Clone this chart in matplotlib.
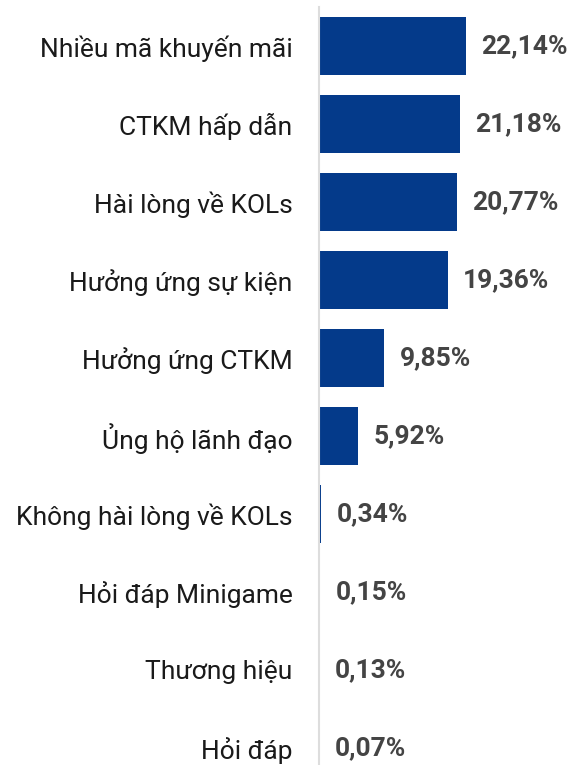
import matplotlib
matplotlib.use('Agg')
import matplotlib.pyplot as plt

plt.rcParams['font.family'] = ['Roboto', 'DejaVu Sans']

# Data
labels = [
    'Nhiều mã khuyến mãi', 'CTKM hấp dẫn', 'Hài lòng về KOLs',
    'Hưởng ứng sự kiện', 'Hưởng ứng CTKM', 'Ủng hộ lãnh đạo',
    'Không hài lòng về KOLs', 'Hỏi đáp Minigame', 'Thương hiệu', 'Hỏi đáp'
]
values = [22.14, 21.18, 20.77, 19.36, 9.85, 5.92, 0.34, 0.15, 0.13, 0.07]
value_text = ['22,14%', '21,18%', '20,77%', '19,36%', '9,85%',
              '5,92%', '0,34%', '0,15%', '0,13%', '0,07%']

bar_color = '#043a8a'

fig = plt.figure(figsize=(5.74, 7.65), dpi=100)
ax = fig.add_axes([319 / 574, 0, 1 - 319 / 574, 1])

y = list(range(len(labels)))
ax.barh(y, values, height=0.74, color=bar_color)

for yi, v, t in zip(y, values, value_text):
    ax.annotate(t, (v, yi), xytext=(11, 0), textcoords='offset points',
                va='center', ha='left', fontsize=19, fontweight='bold',
                color='#444444')

ax.set_xlim(0, 255 / 6.64)
ax.set_ylim(9.22, -0.59)

ax.set_yticks(y)
ax.set_yticklabels(labels, fontsize=19, color='#1a1a1a')
ax.tick_params(axis='y', length=0, pad=19)
ax.set_xticks([])

for s in ['top', 'right', 'bottom']:
    ax.spines[s].set_visible(False)
ax.spines['left'].set_color('#dddddd')
ax.spines['left'].set_linewidth(1.5)
ax.spines['left'].set_bounds(-0.5, 9.22)

fig.savefig('out.png', dpi=100)
